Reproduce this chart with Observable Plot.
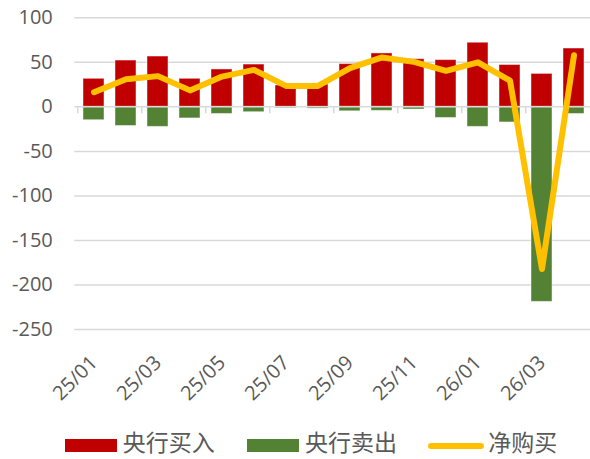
<!DOCTYPE html>
<html>
<head>
<meta charset="utf-8">
<script src="https://cdn.jsdelivr.net/npm/d3@7"></script>
<script src="https://cdn.jsdelivr.net/npm/@observablehq/plot@0.6"></script>
<style>
  html, body { margin: 0; padding: 0; background: #fff; }
  #wrap { width: 590px; height: 459px; position: relative; }
  #legend { position: absolute; left: 0; top: 420px; width: 590px; height: 39px;
    font-family: "Liberation Sans", "Noto Sans CJK SC", sans-serif; font-size: 23px; color: #595959; }
  .sw { position: absolute; }
  .lb { position: absolute; top: 10.2px; line-height: 26px; height: 26px; white-space: nowrap; padding-right: 2px; }
</style>
</head>
<body>
<div id="wrap">
  <div id="chart"></div>
  <div id="legend"></div>
</div>
<script>
const months = ["25/01","25/02","25/03","25/04","25/05","25/06","25/07","25/08","25/09","25/10","25/11","25/12","26/01","26/02","26/03","26/04"];
const buy  = [31.5, 52, 56.5, 31.5, 42, 47.5, 24, 25, 48, 60, 53.5, 52.5, 72, 47, 37, 65.5];
const sell = [-15, -21.5, -22.5, -13, -8, -6, -1.5, -2, -5, -4.5, -3, -12.5, -22.5, -17.5, -219, -8];
const net  = [16.5, 31, 34.5, 18.5, 34, 41.5, 23.5, 23.5, 43.5, 55.5, 50.5, 40.5, 50, 29.5, -182, 58];
const xTickLabels = ["25/01","25/03","25/05","25/07","25/09","25/11","26/01","26/03"];
const yTicks = [-250, -200, -150, -100, -50, 0, 50, 100];
const seriesNames = ["央行买入", "央行卖出", "净购买"];
const seriesColors = ["#C00000", "#548235", "#FFC000"];

const rows = months.map((m, i) => ({month: m, buy: buy[i], sell: sell[i], net: net[i]}));

const step = 32.41;
const chart = Plot.plot({
  width: 590,
  height: 420,
  marginLeft: 74.3,
  marginRight: 0,
  marginTop: 17.3,
  marginBottom: 91,
  style: {fontFamily: "'Open Sans', sans-serif", color: "#595959", background: "#fff"},
  x: {type: "band", domain: months, range: [74.3, 74.3 + 16 * step], paddingInner: 0.33, paddingOuter: 0.165, axis: null, label: null},
  y: {domain: [-250, 100], axis: null, label: null},
  marks: [
    Plot.ruleY(yTicks.filter(d => d !== 0), {stroke: "#d9d9d9", strokeWidth: 1.5}),
    Plot.barY(rows, {x: "month", y: "buy", fill: seriesColors[0], stroke: "#fff", strokeOpacity: 0.45, strokeWidth: 1}),
    Plot.barY(rows, {x: "month", y: "sell", fill: seriesColors[1], stroke: "#fff", strokeOpacity: 0.45, strokeWidth: 1}),
    Plot.ruleY([0], {stroke: "#d9d9d9", strokeWidth: 1.5}),
    Plot.ruleX(xTickLabels, {x: d => d, y1: 0, y2: -7.8, dx: -step / 2, stroke: "#d9d9d9", strokeWidth: 1.5}),
    Plot.line(rows, {x: "month", y: "net", stroke: seriesColors[2], strokeWidth: 6, strokeLinejoin: "round", strokeLinecap: "round"}),
    Plot.axisY({ticks: yTicks, tickSize: 0, tickPadding: 22, fontSize: 20, label: null, tickFormat: d => String(d)}),
    Plot.axisX({ticks: xTickLabels, tickSize: 0, tickPadding: 30, tickRotate: -45, fontSize: 20, label: null, tickFormat: d => d})
  ]
});
document.getElementById("chart").appendChild(chart);

const legend = document.getElementById("legend");
const items = [
  {sw: {left: 65, top: 19.2, width: 52, height: 13, background: seriesColors[0]}, lb: 122.7},
  {sw: {left: 246.7, top: 19.2, width: 52, height: 13, background: seriesColors[1]}, lb: 305},
  {sw: {left: 428.3, top: 22.7, width: 56, height: 6, background: seriesColors[2], borderRadius: "3px"}, lb: 488.3}
];
items.forEach((it, i) => {
  const s = document.createElement("div");
  s.className = "sw";
  Object.entries(it.sw).forEach(([k, v]) => s.style[k] = typeof v === "number" ? v + "px" : v);
  legend.appendChild(s);
  const t = document.createElement("div");
  t.className = "lb";
  t.style.left = it.lb + "px";
  t.textContent = seriesNames[i];
  legend.appendChild(t);
});
</script>
</body>
</html>
